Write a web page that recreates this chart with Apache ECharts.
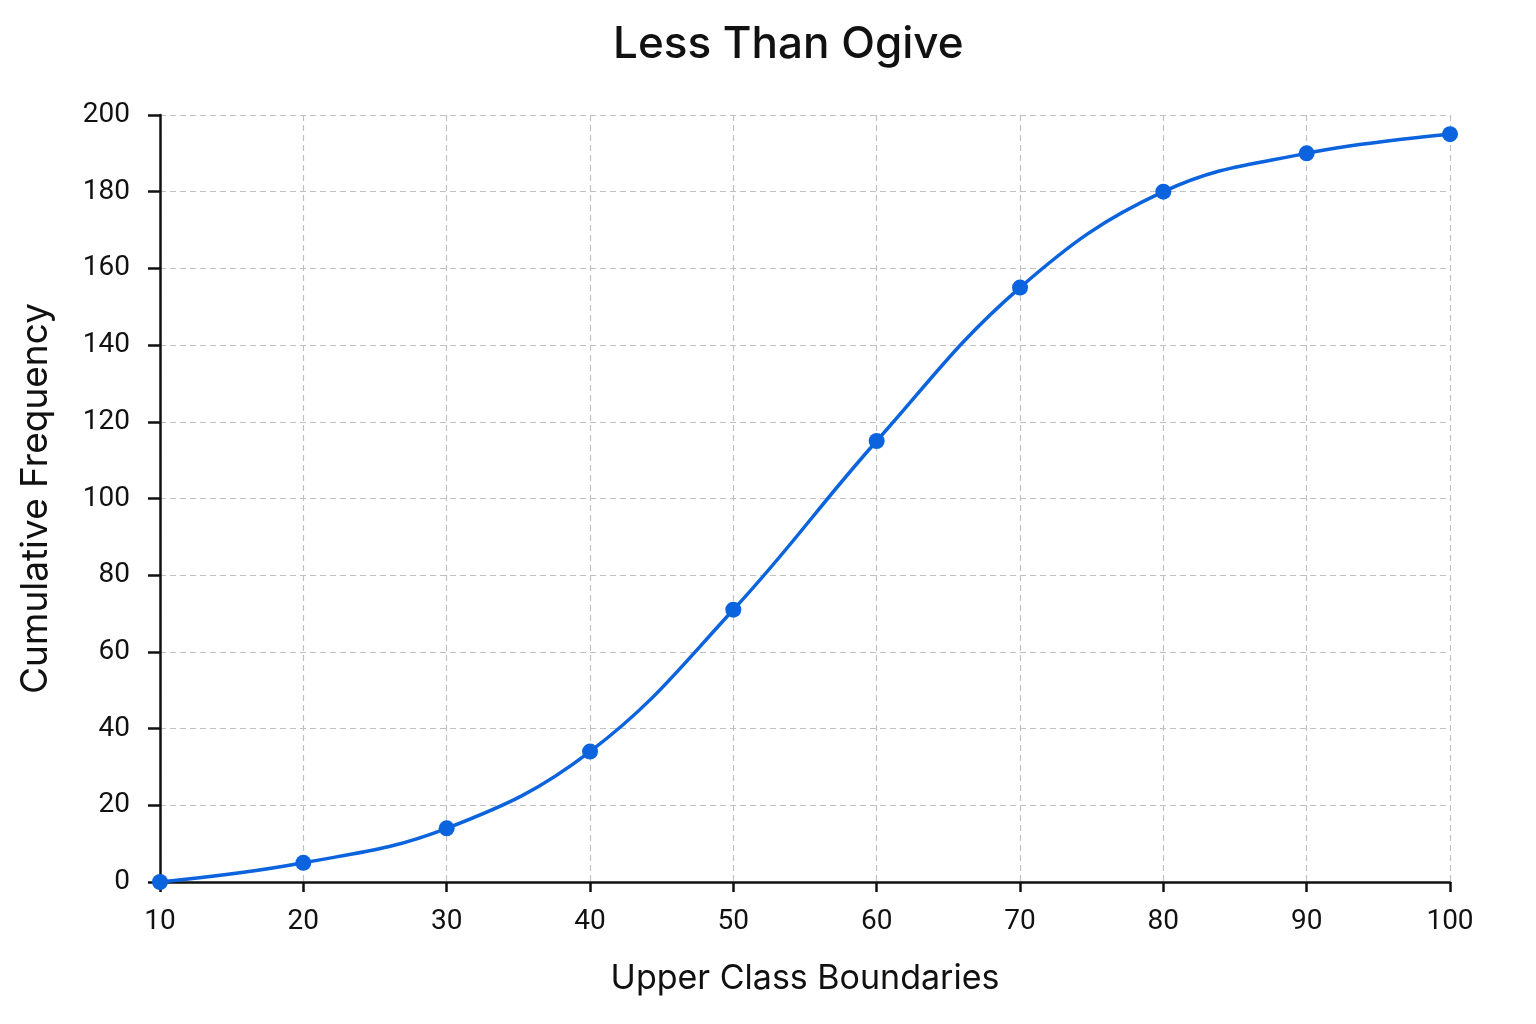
<!DOCTYPE html>
<html>
<head>
<meta charset="utf-8">
<title>Less Than Ogive</title>
<script src="https://cdn.jsdelivr.net/npm/echarts@6/dist/echarts.min.js"></script>
<style>
  html, body { margin: 0; padding: 0; background: #fff; }
  #ogive { width: 1536px; height: 1024px; }
</style>
</head>
<body>
<div id="ogive"></div>
<script>
// upper class boundaries and their cumulative frequencies
var boundaries = [10, 20, 30, 40, 50, 60, 70, 80, 90, 100];
var cumFreq = [0, 5, 14, 34, 71, 115, 155, 180, 190, 195];

function initOgive() {
	var myChart = echarts.init(document.getElementById('ogive'));
	var points = boundaries.map(function (b, i) { return [b, cumFreq[i]]; });

	var option = {
	    backgroundColor: '#fff',
	    textStyle: { fontFamily: 'Inter' },
	    title: {
	        text: 'Less Than Ogive',
	        left: 608,
	        top: 18,
	        textStyle: { fontFamily: 'Inter', fontSize: 44, fontWeight: 500, color: '#111' }
	    },
	    grid: { left: 160, right: 86, top: 115, bottom: 142 },
	    xAxis: {
	        type: 'value',
	        min: 10,
	        max: 100,
	        interval: 10,
	        name: 'Upper Class Boundaries',
	        nameLocation: 'middle',
	        nameGap: 80,
	        nameTextStyle: { fontFamily: 'Inter', fontSize: 34, color: '#111' },
	        axisLine: { lineStyle: { color: '#111', width: 2.5 } },
	        axisTick: { length: 10, lineStyle: { color: '#111', width: 2.5 } },
	        axisLabel: { fontFamily: 'Roboto', fontSize: 28, color: '#111', margin: 26 },
	        splitLine: { show: true, lineStyle: { color: '#c0c0c0', type: [6, 4], width: 1.2 } }
	    },
	    yAxis: {
	        type: 'value',
	        min: 0,
	        max: 200,
	        interval: 20,
	        name: 'Cumulative Frequency',
	        nameLocation: 'middle',
	        nameGap: 106,
	        nameTextStyle: { fontFamily: 'Inter', fontSize: 37, color: '#111' },
	        axisLine: { show: true, lineStyle: { color: '#111', width: 2.5 } },
	        axisTick: { show: true, length: 12, lineStyle: { color: '#111', width: 2.5 } },
	        axisLabel: { fontFamily: 'Roboto', fontSize: 28, color: '#111', margin: 30 },
	        splitLine: { show: true, lineStyle: { color: '#c0c0c0', type: [6, 4], width: 1.2 } }
	    },
	    series: [{
	        name: 'Cumulative Frequency',
	        type: 'line',
	        smooth: 0.4,
	        symbol: 'circle',
	        symbolSize: 16,
	        lineStyle: { color: '#0b63dd', width: 3.5 },
	        itemStyle: { color: '#0b63dd' },
	        data: points
	    }],
	    animation: false
	};
	myChart.setOption(option);
}
initOgive();
</script>
</body>
</html>
